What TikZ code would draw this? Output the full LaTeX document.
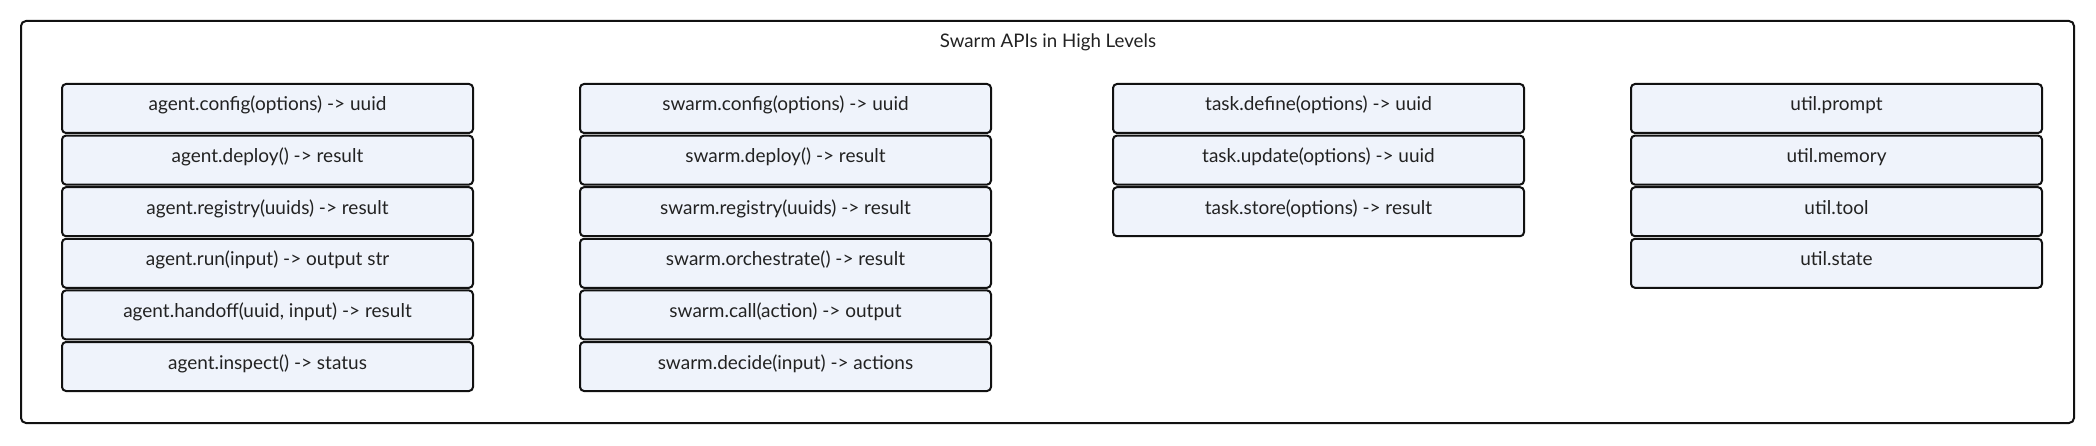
\documentclass[tikz,border=0pt]{standalone}
\usepackage{fontspec}
\setmainfont{Lato}
\definecolor{boxfill}{HTML}{EFF3FB}
\definecolor{boxline}{HTML}{111111}
\definecolor{txt}{HTML}{222222}
\begin{document}
\begin{tikzpicture}[x=1pt,y=-1pt,
  api/.style={draw=boxline,fill=boxfill,line width=2pt,rounded corners=4pt,
    minimum width=411pt,minimum height=49pt,anchor=north west,inner sep=0pt,
    text depth=11pt,text height=16pt,
    font=\fontsize{19}{22}\selectfont,text=txt},
  frame/.style={draw=boxline,line width=2pt,rounded corners=5pt}]
\useasboundingbox (0,0) rectangle (2096,446);
\draw[frame] (21,21) rectangle (2074,423);
\node[font=\fontsize{18.7}{22}\selectfont,text=txt] (title) at (1048,42.5) {Swarm APIs in High Levels};
% agent column
\node[api] (a1) at (61,83) {agent.config(options) -> uuid};
\node[api] (a2) at (61,134.6) {agent.deploy() -> result};
\node[api] (a3) at (61,186.2) {agent.registry(uuids) -> result};
\node[api] (a4) at (61,237.8) {agent.run(input) -> output str};
\node[api] (a5) at (61,289.4) {agent.handoff(uuid, input) -> result};
\node[api] (a6) at (61,341) {agent.inspect() -> status};
% swarm column
\node[api] (s1) at (579,83) {swarm.config(options) -> uuid};
\node[api] (s2) at (579,134.6) {swarm.deploy() -> result};
\node[api] (s3) at (579,186.2) {swarm.registry(uuids) -> result};
\node[api] (s4) at (579,237.8) {swarm.orchestrate() -> result};
\node[api] (s5) at (579,289.4) {swarm.call(action) -> output};
\node[api] (s6) at (579,341) {swarm.decide(input) -> actions};
% task column
\node[api] (t1) at (1112,83) {task.define(options) -> uuid};
\node[api] (t2) at (1112,134.6) {task.update(options) -> uuid};
\node[api] (t3) at (1112,186.2) {task.store(options) -> result};
% util column
\node[api] (u1) at (1630,83) {util.prompt};
\node[api] (u2) at (1630,134.6) {util.memory};
\node[api] (u3) at (1630,186.2) {util.tool};
\node[api] (u4) at (1630,237.8) {util.state};
\end{tikzpicture}
\end{document}
